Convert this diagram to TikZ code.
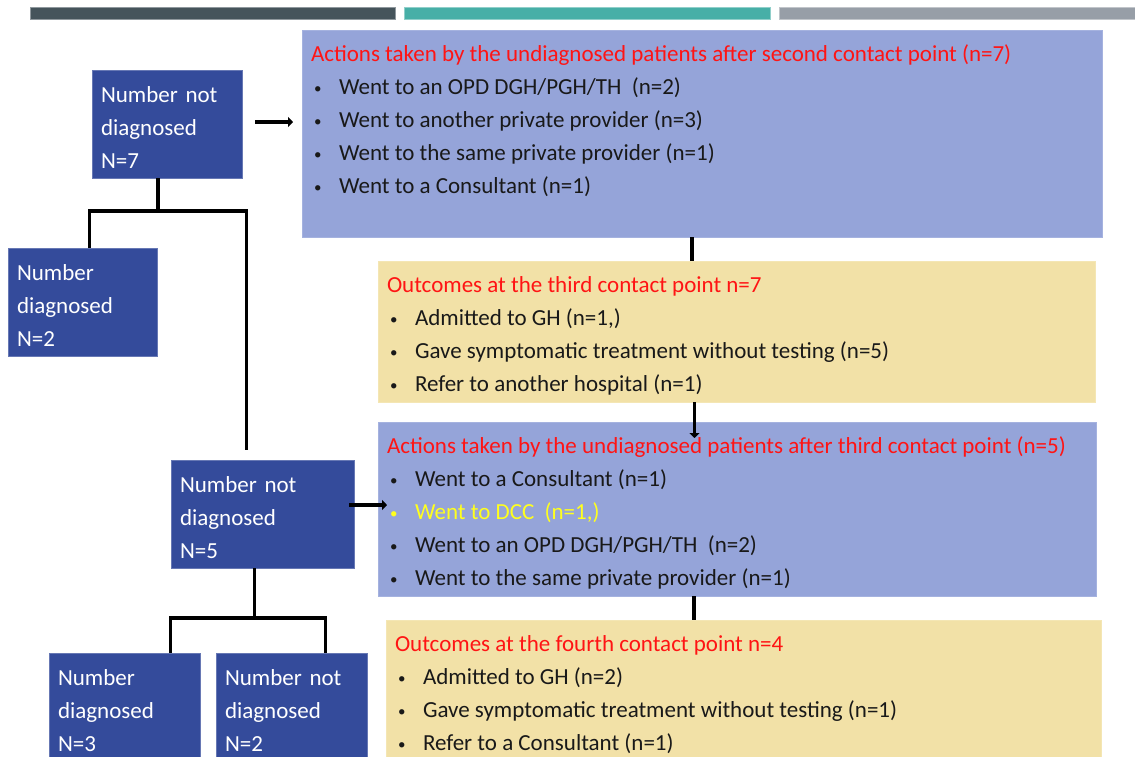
\documentclass[tikz,border=0pt]{standalone}
\usepackage{fontspec}
\setmainfont{Carlito}
\usetikzlibrary{positioning, arrows.meta}
\definecolor{darkbox}{HTML}{344B9B}
\definecolor{actfill}{HTML}{95A4D9}
\definecolor{outfill}{HTML}{F2E1A7}
\definecolor{barone}{HTML}{45545B}
\definecolor{bartwo}{HTML}{47AFA7}
\definecolor{barthree}{HTML}{979EA7}
\definecolor{headred}{HTML}{FF1414}
\definecolor{dccyellow}{HTML}{FFFF1E}
\newcommand{\boxfont}{\fontsize{23}{33}\selectfont}
\newcommand{\paneltext}[3]{\begin{minipage}[c][#2][t]{#1}#3\end{minipage}}
\newcommand{\head}[1]{\strut\textcolor{headred}{#1}}
\newcommand{\bul}[2][black!90]{\par\leavevmode{\color{#1}\hspace*{3pt}\makebox[25pt][l]{\fontsize{15}{33}\selectfont\raisebox{1pt}{\textbullet}}#2}}
\newcommand{\firstline}{\rule{0pt}{23pt}}
\tikzset{link/.style={line width=3.2pt, black}}

\begin{document}
\begin{tikzpicture}[x=1pt, y=-1pt,
	numbox/.style={anchor=north west, fill=darkbox, draw=darkbox!75!white, line width=0.6pt, text=white, align=left, inner xsep=9pt, inner ysep=0pt, outer sep=0pt, minimum height=108pt, font=\boxfont},
	panel/.style={anchor=north west, draw=#1!85!white, line width=0.6pt, fill=#1, inner xsep=9pt, inner ysep=8pt, outer sep=0pt, font=\boxfont},
	arr/.style={black, line width=3.6pt, -{Triangle[length=5pt,width=10pt]}}]
	\useasboundingbox (0,0) rectangle (1135,756);
	%% bars on top
	\fill[barone, draw=barone!60!white, line width=0.6pt] (30,7) rectangle (395,19);
	\fill[bartwo, draw=bartwo!60!white, line width=0.6pt] (404,7) rectangle (770,19);
	\fill[barthree, draw=barthree!60!white, line width=0.6pt] (779,7) rectangle (1140,19);
	%%
	\node[numbox, text width=132pt] (nd1) at (92,70) {\firstline Number not\\diagnosed\\N=7};
	\node[numbox, text width=131pt] (dg1) at (8,248) {\firstline Number\\diagnosed\\N=2};
	\node[numbox, text width=165pt] (nd2) at (171,460) {\firstline Number not\\diagnosed\\N=5};
	\node[numbox, text width=133pt] (dg2) at (49,653) {\firstline Number\\diagnosed\\N=3};
	\node[numbox, text width=133pt] (nd3) at (216,653) {\firstline Number not\\diagnosed\\N=2};
	%%
	\node[panel=actfill] (act1) at (302,30) {\paneltext{782pt}{191pt}{%
		\head{Actions taken by the undiagnosed patients after second contact point (n=7)}
		\bul{Went to an OPD DGH/PGH/TH~\ (n=2)}
		\bul{Went to another private provider (n=3)}
		\bul{Went to the same private provider (n=1)}
		\bul{Went to a Consultant (n=1)}}};
	\node[panel=outfill] (out1) at (378,261) {\paneltext{699pt}{125pt}{%
		\head{Outcomes at the third contact point n=7}
		\bul{Admitted to GH (n=1,)}
		\bul{Gave symptomatic treatment without testing (n=5)}
		\bul{Refer to another hospital (n=1)}}};
	\node[panel=actfill] (act2) at (378,422) {\paneltext{700pt}{158pt}{%
		\head{Actions taken by the undiagnosed patients after third contact point (n=5)}
		\bul{Went to a Consultant (n=1)}
		\bul[dccyellow]{Went to DCC~\ (n=1,)}
		\bul{Went to an OPD DGH/PGH/TH~\ (n=2)}
		\bul{Went to the same private provider (n=1)}}};
	\node[panel=outfill] (out2) at (386,620) {\paneltext{697pt}{140pt}{%
		\head{Outcomes at the fourth contact point n=4}
		\bul{Admitted to GH (n=2)}
		\bul{Gave symptomatic treatment without testing (n=1)}
		\bul{Refer to a Consultant (n=1)}}};
	
	%% tree on the left
	\draw[link] ([xshift=-9pt]nd1.south) -- ++(0,33) coordinate (j1);
	\draw[link] ([xshift=7pt]dg1.north) |- (j1) -| ([xshift=-16pt, yshift=10pt]nd2.north);
	\draw[link] ([xshift=-8pt]nd2.south) -- ++(0,50) coordinate (j2);
	\draw[link] ([xshift=46pt]dg2.north) |- (j2) -| ([xshift=34pt]nd3.north);
	
	%% flow on the right
	\draw[arr, shorten <=13pt, shorten >=9pt] ([yshift=2pt]nd1.east) -- ([yshift=2pt]nd1.east -| act1.west);
	\draw[arr, shorten <=-5pt, shorten >=-9pt] ([yshift=9pt]nd2.east) -- ([yshift=9pt]nd2.east -| act2.west);
	\draw[link] ([xshift=-10pt]act1.south) -- ([xshift=-10pt]act1.south |- out1.north);
	\draw[arr, line width=3.2pt, shorten >=-16pt] ([xshift=-42pt]out1.south) -- ([xshift=-42pt]out1.south |- act2.north);
	\draw[link] ([xshift=-43pt]act2.south) -- ([xshift=-43pt]act2.south |- out2.north);
\end{tikzpicture}
\end{document}
